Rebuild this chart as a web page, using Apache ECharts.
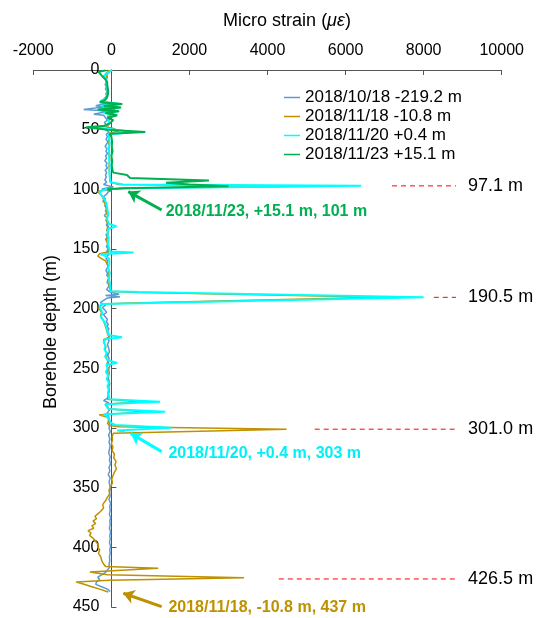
<!DOCTYPE html>
<html><head><meta charset="utf-8">
<script src="https://cdn.jsdelivr.net/npm/echarts@6/dist/echarts.min.js"></script>
<style>html,body{margin:0;padding:0;background:#fff}#c{width:539px;height:618px}</style>
</head><body><div id="c"></div>
<script>
// ---- data: [depth (m), micro strain] ----
const seriesNames = ['2018/10/18 -219.2 m','2018/11/18 -10.8 m','2018/11/20 +0.4 m','2018/11/23 +15.1 m'];

const profile1018 = [[0,0],[2,-60],[4,-120],[6,-100],[8,-140],[10,-120],[12,-160],[14,-130],[16,-150],[18,-110],[20,-140],[22,-120],[24,-180],[26,-250],[28,-150],[30,-400],[31,-200],[33,-710],[34,-300],[35,-150],[37,-450],[38,-200],[40,-150],[42,-100],[44,-180],[46,-120],[48,-90],[50,-150],[52,-60],[54,-130],[56,-100],[58,-140],[60,-90],[62,-120],[64,-160],[66,-110],[68,-140],[70,-100],[72,-150],[74,-120],[76,-170],[78,-110],[80,-140],[82,-100],[84,-160],[86,-120],[88,-150],[90,-130],[92,-170],[94,-120],[96,-200],[97,-80],[98,50],[99,-150],[100,-250],[101,0],[102,-80],[104,-120],[106,-200],[108,-150],[110,-220],[112,-130],[114,-170],[116,-100],[118,-150],[120,-120],[122,-180],[124,-110],[126,-140],[128,-90],[130,-130],[132,-60],[134,-120],[136,-80],[138,-140],[140,-100],[142,-150],[144,-110],[146,-90],[148,-130],[150,-80],[152,-120],[154,-60],[156,-100],[158,-140],[160,-90],[162,-120],[164,-80],[166,-110],[168,-140],[170,-100],[172,-120],[174,-70],[176,-90],[178,-110],[180,-60],[182,-80],[184,-120],[186,-40],[188,200],[189,-150],[190,220],[191,-100],[193,-200],[195,-280],[197,-150],[199,-230],[201,-170],[203,-120],[205,-200],[207,-150],[209,-100],[211,-130],[213,-80],[215,-110],[217,-60],[219,-100],[221,-70],[223,-40],[225,-90],[227,-60],[230,-100],[233,-70],[236,-50],[239,-90],[242,-60],[245,-80],[248,-40],[251,-70],[254,-50],[257,-90],[260,-60],[263,-40],[266,-70],[269,-50],[272,-80],[275,-100],[277,-200],[279,-60],[281,-150],[283,-80],[285,-50],[288,-120],[291,-60],[294,-80],[297,-40],[300,-60],[303,-30],[306,-70],[309,-40],[312,-60],[315,-30],[318,-50],[321,-70],[324,-30],[327,-50],[330,-20],[333,-60],[336,-40],[339,-80],[342,-30],[345,-60],[348,-40],[351,-20],[354,-50],[357,-30],[360,-60],[363,-20],[366,-40],[369,-30],[372,-50],[375,-20],[378,-40],[381,-30],[384,-50],[387,-20],[390,-40],[393,-30],[396,-50],[399,-20],[402,-40],[405,-30],[408,-50],[411,-40],[414,-60],[417,-50],[419,-100],[421,-150],[423,-250],[425,-350],[427,-300],[429,-380],[431,-400],[433,-250],[435,-100],[437,-30]];

const profile1118 = [[0,-50],[3,-150],[6,-120],[10,-130],[15,-110],[20,-100],[24,-150],[27,-250],[29,150],[31,-200],[33,100],[35,-150],[37,80],[39,-100],[42,-50],[45,-80],[47,-200],[49,50],[51,200],[53,-50],[56,-60],[60,-80],[65,-50],[70,-70],[75,-40],[80,-60],[85,-50],[90,-40],[94,-30],[96,200],[97.5,5500],[99,300],[100.5,-200],[102,-350],[104,-280],[107,-220],[110,-180],[114,-150],[118,-120],[122,-100],[126,-130],[130,-90],[134,-110],[138,-80],[142,-120],[146,-100],[150,-80],[152,-50],[154,-300],[156,-350],[158,-250],[160,-150],[163,-100],[167,-70],[171,-80],[175,-50],[179,-60],[183,-40],[185.5,-30],[186.3,500],[190.5,6970],[195.3,500],[196,-200],[198,-300],[200,-320],[203,-250],[206,-280],[209,-220],[212,-180],[215,-150],[218,-120],[221,-100],[224,-60],[226,-200],[229,-180],[232,-140],[235,-160],[238,-100],[241,-130],[244,-90],[247,-120],[250,-80],[253,-110],[256,-70],[259,-100],[262,-60],[265,-90],[268,-50],[271,-80],[274,-60],[276,-100],[278,770],[280,-160],[282,-100],[284,-60],[286.3,900],[289,-315],[291,-100],[294,-50],[296,-100],[298,-50],[299,200],[301,4490],[304.5,50],[307,20],[310,30],[313,0],[316,40],[319,20],[322,80],[325,60],[328,120],[331,90],[334,130],[337,80],[340,40],[343,10],[346,30],[349,-20],[352,-60],[355,-40],[358,-100],[361,-150],[364,-220],[367,-200],[370,-280],[372,-350],[374,-420],[376,-380],[378,-470],[380,-400],[382,-500],[384,-450],[386,-600],[388,-520],[390,-560],[392,-480],[394,-420],[396,-380],[398,-330],[400,-350],[402,-300],[405,-330],[408,-270],[411,-250],[414,-200],[416,-150],[417.5,1200],[420.7,-550],[423,-100],[425.4,3400],[427.5,-50],[429,-900],[431,-700],[433,-500],[435,-300],[437.5,-80]];

const profile1120 = [[0,20],[2,-80],[5,-200],[8,-130],[12,-120],[16,-100],[20,-90],[24,-130],[26,-280],[28.5,200],[30,-250],[31.5,220],[33,-300],[34.5,150],[36,-200],[38,120],[40,-80],[43,-60],[46,-80],[48,-400],[50,100],[52,570],[54,-80],[57,-60],[61,-40],[65,-70],[70,-50],[75,-60],[80,-40],[85,-50],[90,-40],[94,-20],[96,300],[97.1,6400],[99,500],[100,-150],[102,-300],[104,-280],[107,-200],[110,-150],[113,-120],[117,-100],[121,-80],[125,-110],[129,-60],[131,130],[133,-80],[137,-100],[141,-70],[145,-90],[149,-60],[152,-40],[153,570],[154.5,-280],[156,-150],[158,-60],[162,-50],[166,-80],[170,-40],[175,-60],[180,-30],[185.5,-20],[186,700],[190.5,8000],[195.5,700],[196,-250],[198,-300],[201,-260],[204,-230],[207,-270],[210,-200],[213,-150],[216,-120],[219,-100],[222,-80],[224,270],[225.5,-150],[228,-200],[231,-150],[234,-180],[237,-120],[240,-160],[243,-100],[245.5,150],[247,-130],[250,-100],[253,-140],[256,-80],[259,-120],[262,-60],[265,-100],[268,-70],[271,-90],[274,-60],[276,-50],[278,1250],[280,-160],[282,-120],[284,-80],[286.3,1380],[288.5,-200],[291,-80],[294,-40],[296,0],[297.5,100],[299.7,1540],[302,150],[303,350]];

const profile1123 = [[0.5,-150],[1.5,-330],[5,-240],[8,-150],[10,-110],[14,-100],[18,-80],[22,-100],[25,-150],[27,-300],[28.5,280],[30,-200],[31.5,250],[33,-350],[34.5,200],[36,-150],[38,150],[40,-100],[42,50],[45,-50],[47,-200],[48,-650],[50,-100],[52,870],[53.5,-50],[56,0],[60,20],[64,10],[68,30],[72,0],[76,20],[80,10],[84,30],[86,50],[88,400],[90.5,480],[92.5,2500],[94.5,1400],[96,2000],[97.5,3000],[99,300],[100,-100],[101,0]];

// peak depths marked on the right
const peakDepths = [97.1, 190.5, 301.0, 426.5];
const peakDashStart = [7190, 8260, 5210, 4290];
const peakDashEnd = 8830;

// callouts: text, colour index, arrow tip [strain, depth], arrow tail, text anchor
const calloutTexts = ['2018/11/23, +15.1 m, 101 m', '2018/11/20, +0.4 m, 303 m', '2018/11/18, -10.8 m, 437 m'];
const calloutSeries = [3, 2, 1];
const calloutTip = [[433, 101.9], [494, 304.5], [306, 438.5]];
const calloutTail = [[1288, 117.3], [1288, 319.8], [1288, 449.7]];
const calloutAnchor = [[1390, 118.7], [1460, 321.2], [1460, 450.6]];

// ---- chart ----
const FONT = 'Liberation Sans, Arial, sans-serif';
const colors = ['#5B9BD5', '#BF9000', '#00FFFF', '#00B050'];
const widths = [1.5, 1.5, 2, 2];
const profiles = [profile1018, profile1118, profile1120, profile1123];
const textColors = ['#5B9BD5', '#BF9000', '#00F0F8', '#00B050'];

const series = profiles.map((p, i) => ({
  type: 'line', name: seriesNames[i], data: p.map(q => [q[1], q[0]]),
  symbol: 'none', lineStyle: { color: colors[i], width: widths[i] }, itemStyle: { color: colors[i] },
  z: 2 + i, animation: false
}));

peakDepths.forEach((d, i) => {
  series.push({
    type: 'line', data: [[peakDashStart[i], d], [peakDashEnd, d]], symbol: 'none', silent: true,
    lineStyle: { color: '#FF0000', width: 1, type: [5, 4] }, z: 1, animation: false
  });
});
const plainLabel = { opacity: 1, textBorderWidth: 0, textShadowBlur: 0 };
series.push({
  type: 'scatter', silent: true, animation: false, symbolSize: 0.1, itemStyle: { color: '#000', opacity: 1 },
  data: peakDepths.map(d => ({ value: [peakDashEnd, d], label: { formatter: d.toFixed(1) + ' m' } })),
  label: Object.assign({ show: true, position: 'right', distance: 12, fontSize: 18, color: '#000', fontFamily: FONT }, plainLabel)
});
series.push({
  type: 'lines', coordinateSystem: 'cartesian2d', silent: true, animation: false, z: 10,
  symbol: ['none', 'arrow'], symbolSize: 11,
  data: calloutTip.map((t, i) => ({ coords: [calloutTail[i], t], lineStyle: { color: colors[calloutSeries[i]] } })),
  lineStyle: { width: 3, opacity: 1 }
});
series.push({
  type: 'scatter', silent: true, animation: false, symbolSize: 0.1, clip: false, z: 11,
  data: calloutAnchor.map((a, i) => ({ value: a, itemStyle: { color: textColors[calloutSeries[i]], opacity: 1 }, label: { formatter: calloutTexts[i], color: textColors[calloutSeries[i]] } })),
  label: Object.assign({ show: true, position: 'right', distance: 0, fontSize: 16, fontWeight: 'bold', fontFamily: FONT }, plainLabel)
});

const axisCol = '#555';
const chart = echarts.init(document.getElementById('c'), null, { renderer: 'canvas' });
chart.setOption({
  animation: false,
  backgroundColor: '#fff',
  grid: { left: 33.3, right: 37.3, top: 70, bottom: 11, containLabel: false, outerBoundsMode: 'none' },
  xAxis: {
    type: 'value', position: 'top', min: -2000, max: 10000, interval: 2000,
    axisLine: { show: true, onZero: false, lineStyle: { color: axisCol, width: 1 } },
    axisTick: { show: true, inside: true, length: 5, lineStyle: { color: axisCol } },
    axisLabel: { fontSize: 16, color: '#000', fontFamily: FONT, margin: 11, formatter: v => String(v) },
    splitLine: { show: false }
  },
  yAxis: {
    type: 'value', inverse: true, min: 0, max: 450, interval: 50, offset: -78.1,
    axisLine: { show: true, onZero: false, lineStyle: { color: axisCol, width: 1 } },
    axisTick: { show: true, inside: true, length: 5, lineStyle: { color: axisCol } },
    axisLabel: { fontSize: 16, color: '#000', fontFamily: FONT, margin: 12 },
    splitLine: { show: false }
  },
  legend: {
    data: seriesNames, orient: 'vertical', left: 284, top: 89, padding: 0,
    icon: 'rect', itemWidth: 16, itemHeight: 1.5, itemGap: 2,
    textStyle: { fontSize: 17, color: '#000', fontFamily: FONT, lineHeight: 17 }
  },
  graphic: [
    { type: 'text', x: 287, y: 21, style: { text: 'Micro strain ({i|με})', rich: { i: { fontStyle: 'italic', fontSize: 18, fontFamily: FONT, fill: '#000' } }, fontSize: 18, fontFamily: FONT, fill: '#000', align: 'center', verticalAlign: 'middle' } },
    { type: 'text', x: 51, y: 332, rotation: Math.PI / 2, style: { text: 'Borehole depth (m)', fontSize: 18, fontFamily: FONT, fill: '#000', align: 'center', verticalAlign: 'middle' } }
  ],
  series: series
});
</script></body></html>
